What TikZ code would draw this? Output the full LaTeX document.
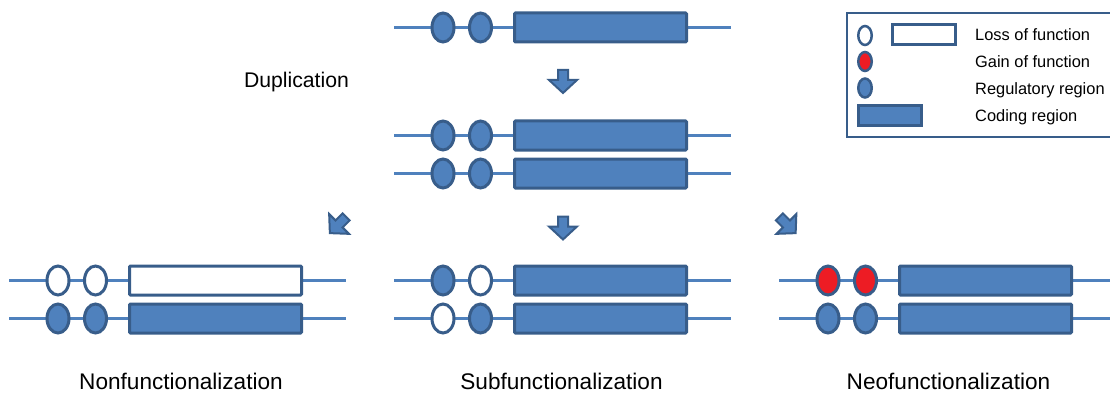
\documentclass[tikz,border=0pt]{standalone}
\usepackage{fontspec}
\setmainfont{Liberation Sans}
\usetikzlibrary{shapes.geometric}

\definecolor{geneblue}{RGB}{79,129,189}
\definecolor{edgeblue}{RGB}{56,93,138}
\definecolor{gainred}{RGB}{237,28,36}

\tikzset{
  backbone/.style={draw=geneblue, line width=2.5pt},
  regel/.style={ellipse, draw=edgeblue, line width=3pt, minimum width=22pt,
    minimum height=29pt, inner sep=0pt},
  codebox/.style={rectangle, draw=edgeblue, line width=3pt, minimum width=172pt,
    minimum height=29pt, inner sep=0pt, rounded corners=1pt},
  keyel/.style={ellipse, draw=edgeblue, line width=2.5pt, minimum width=13.5pt,
    minimum height=19pt, inner sep=0pt},
  keybox/.style={rectangle, draw=edgeblue, line width=2.5pt, minimum width=63pt,
    minimum height=20pt, inner sep=0pt},
  keyframe/.style={draw=edgeblue, line width=1.8pt},
  keytext/.style={anchor=base west, inner sep=0pt, font=\fontsize{16.4}{19}\selectfont},
  stagetext/.style={anchor=base, inner sep=0pt, font=\fontsize{22.6}{26}\selectfont},
  arrowbody/.style={draw=edgeblue, fill=geneblue, line width=2pt, line join=miter},
  blockarrow/.pic={
    \draw[arrowbody] (-5,-11.5) -- (5,-11.5) -- (5,-1.5) -- (14,-1.5)
      -- (0,11.5) -- (-14,-1.5) -- (-5,-1.5) -- cycle;
  }
}

% one gene copy: backbone, two regulatory regions, coding region
\newcommand{\generow}[6]{%
  \coordinate (#1-l) at (#2+394,#3);
  \coordinate (#1-r) at (#2+731,#3);
  \draw[backbone] (#1-l) -- (#1-r);
  \node[regel, fill=#4] (#1-a) at (#2+443,#3) {};
  \node[regel, fill=#5] (#1-b) at (#2+480.5,#3) {};
  \node[codebox, fill=#6] (#1-c) at (#2+600.5,#3) {};
}

\begin{document}
\begin{tikzpicture}[x=1pt, y=-1pt]
\useasboundingbox (0,0) rectangle (1110,393);
\clip (0,0) rectangle (1110,393);

% ancestral gene and duplication
\generow{top}{0}{27.5}{geneblue}{geneblue}{geneblue}
\pic (dupArrow) at (563,81.5) {blockarrow};
\node[stagetext, font=\fontsize{21.2}{25}\selectfont] (dupText) at (296.5,88) {Duplication};
\generow{dupA}{0}{135.5}{geneblue}{geneblue}{geneblue}
\generow{dupB}{0}{173.5}{geneblue}{geneblue}{geneblue}

% three fates
\pic[rotate=-45] (nfArrow) at (338,225) {blockarrow};
\pic (sfArrow) at (563,228) {blockarrow};
\pic[rotate=45] (neoArrow) at (787.5,225) {blockarrow};

\generow{nfA}{-385}{280.5}{white}{white}{white}
\generow{nfB}{-385}{318.5}{geneblue}{geneblue}{geneblue}
\generow{sfA}{0}{280.5}{geneblue}{white}{geneblue}
\generow{sfB}{0}{318.5}{white}{geneblue}{geneblue}
\generow{neoA}{385}{280.5}{gainred}{gainred}{geneblue}
\generow{neoB}{385}{318.5}{geneblue}{geneblue}{geneblue}

\node[stagetext] (nfText) at (181,389) {Nonfunctionalization};
\node[stagetext] (sfText) at (561.5,389) {Subfunctionalization};
\node[stagetext] (neoText) at (948.5,389) {Neofunctionalization};

% legend
\draw[keyframe] (847,13) rectangle (1125,137);
\node[keyel, fill=white] (keyLossEl) at (865,35.5) {};
\node[keybox, fill=white] (keyLossBox) at (924,34.5) {};
\node[keyel, fill=gainred] (keyGainEl) at (865,61.5) {};
\node[keyel, fill=geneblue] (keyRegEl) at (865,88) {};
\node[keybox, fill=geneblue] (keyCodeBox) at (890,115.5) {};
\node[keytext] (keyLoss) at (975,40.5) {Loss of function};
\node[keytext] (keyGain) at (975,68) {Gain of function};
\node[keytext] (keyReg) at (975,94.5) {Regulatory region};
\node[keytext] (keyCode) at (975,121.5) {Coding region};
\end{tikzpicture}
\end{document}
